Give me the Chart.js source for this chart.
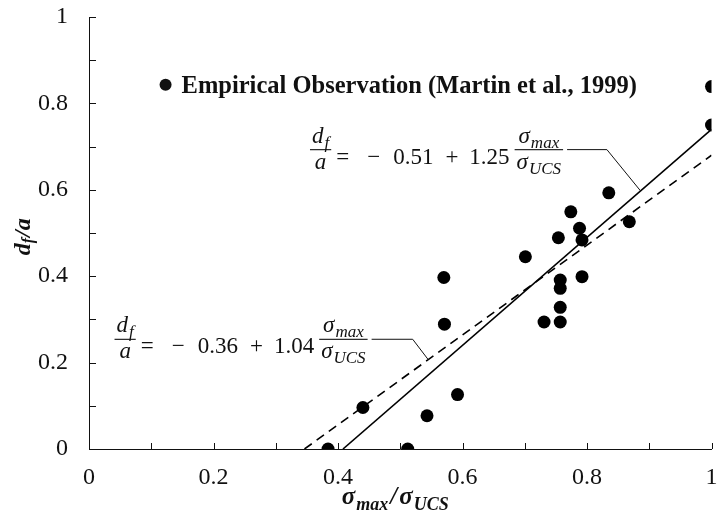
<!DOCTYPE html>
<html>
<head>
<meta charset="utf-8">
<script src="https://cdn.jsdelivr.net/npm/chart.js@4.4.0/dist/chart.umd.min.js"></script>
<style>
  html, body { margin: 0; padding: 0; background: #fff; }
  #chart { display: block; }
</style>
</head>
<body>
<canvas id="chart" width="718" height="515"></canvas>
<script>
// Observed fracture depth ratio d_f/a against sigma_max/sigma_UCS
const obsX = [0.384, 0.440, 0.512, 0.543, 0.592, 0.570, 0.571, 0.701, 0.731, 0.754, 0.757,
              0.757, 0.757, 0.757, 0.774, 0.788, 0.792, 0.792, 0.835, 0.868, 1.000, 1.000];
const obsY = [0.000, 0.096, 0.000, 0.077, 0.126, 0.397, 0.289, 0.445, 0.294, 0.489, 0.391,
              0.372, 0.328, 0.294, 0.549, 0.511, 0.484, 0.399, 0.593, 0.526, 0.839, 0.750];

// Linear fits: d_f/a = intercept + slope * sigma_max/sigma_UCS
const fitIntercept = [-0.51, -0.36];
const fitSlope = [1.25, 1.04];
const fitDash = [[], [9, 6]];

// Tick marks every 0.1 on both axes (labels every 0.2)
const tickMarks = [0, 0.1, 0.2, 0.3, 0.4, 0.5, 0.6, 0.7, 0.8, 0.9, 1];

const legendLabel = 'Empirical Observation (Martin et al., 1999)';

const ink = '#111';
const serif = '"Liberation Serif", "Times New Roman", serif';
const mathFamily = '"Liberation Serif", serif';

// Each fit line runs from where it crosses zero up to x = 1
function fitPoints(i) {
    const x0 = -fitIntercept[i] / fitSlope[i];
    return [
        { x: x0, y: 0 },
        { x: 1, y: fitIntercept[i] + fitSlope[i] }
    ];
}

function fitAt(i, x) {
    return fitIntercept[i] + fitSlope[i] * x;
}

// Equation labels: left edge / fraction bar height, leader elbow and where it meets the line
const eqAnchor = [{ x: 0.355, y: 0.693 }, { x: 0.041, y: 0.254 }];
const eqElbowX = [0.832, 0.520];
const eqTargetX = [0.886, 0.545];

// ---- small math text helpers ----
function symWidth(ctx, sym, size, weight) {
    ctx.font = `italic ${weight} ${size}px ${mathFamily}`;
    let w = ctx.measureText(sym.main).width;
    if (sym.sub) {
        ctx.font = `italic ${weight} ${Math.round(size * 0.72)}px ${mathFamily}`;
        w += 1 + ctx.measureText(sym.sub).width;
    }
    return w;
}

function drawSym(ctx, x, base, sym, size, weight) {
    ctx.font = `italic ${weight} ${size}px ${mathFamily}`;
    ctx.fillText(sym.main, x, base);
    const w = ctx.measureText(sym.main).width;
    if (sym.sub) {
        ctx.font = `italic ${weight} ${Math.round(size * 0.72)}px ${mathFamily}`;
        ctx.fillText(sym.sub, x + w + 1, base + size * 0.22);
    }
}

function drawFraction(ctx, x, barY, num, den, size) {
    const wn = symWidth(ctx, num, size, 'normal');
    const wd = symWidth(ctx, den, size, 'normal');
    const len = Math.max(wn, wd) + 4;
    drawSym(ctx, x + (len - wn) / 2, barY - 7, num, size, 'normal');
    drawSym(ctx, x + (len - wd) / 2, barY + 19, den, size, 'normal');
    ctx.fillRect(x, barY - 0.5, len, 1.1);
    return len;
}

function drawEquation(chart, i) {
    const { ctx, scales: { x, y } } = chart;
    const size = 23;
    const left = x.getPixelForValue(eqAnchor[i].x);
    const barY = y.getPixelForValue(eqAnchor[i].y);
    const base = barY + 14;
    let cx = left;

    cx += drawFraction(ctx, cx, barY, { main: 'd', sub: 'f' }, { main: 'a' }, size);

    ctx.font = `${size}px ${mathFamily}`;
    const parts = [
        ['=', 5, 18],
        ['\u2212', 0, 13],
        [Math.abs(fitIntercept[i]).toFixed(2), 0, 12],
        ['+', 0, 11],
        [fitSlope[i].toFixed(2), 0, 5]
    ];
    parts.forEach(([txt, before, after]) => {
        cx += before;
        ctx.fillText(txt, cx, base);
        cx += ctx.measureText(txt).width + after;
    });

    cx += drawFraction(ctx, cx, barY, { main: '\u03c3', sub: 'max' }, { main: '\u03c3', sub: 'UCS' }, size);

    // leader line to the fitted line
    const ex = x.getPixelForValue(eqElbowX[i]);
    const tx = x.getPixelForValue(eqTargetX[i]);
    const ty = y.getPixelForValue(fitAt(i, eqTargetX[i]));
    ctx.beginPath();
    ctx.moveTo(cx + 4, barY);
    ctx.lineTo(ex, barY);
    ctx.lineTo(tx, ty);
    ctx.lineWidth = 1;
    ctx.strokeStyle = ink;
    ctx.stroke();
}

const overlay = {
    id: 'overlay',
    afterDraw(chart) {
        const { ctx, chartArea, scales: { x, y } } = chart;
        ctx.save();
        ctx.fillStyle = ink;
        ctx.strokeStyle = ink;
        ctx.lineWidth = 1;
        ctx.textBaseline = 'alphabetic';
        ctx.textAlign = 'left';

        // inward tick marks
        ctx.beginPath();
        tickMarks.forEach(v => {
            const px = Math.round(x.getPixelForValue(v)) + 0.5;
            ctx.moveTo(px, chartArea.bottom);
            ctx.lineTo(px, chartArea.bottom - 6);
            const py = Math.round(y.getPixelForValue(v)) + 0.5;
            ctx.moveTo(chartArea.left, py);
            ctx.lineTo(chartArea.left + 7, py);
        });
        ctx.stroke();

        // legend
        const lx = x.getPixelForValue(0.123);
        const ly = y.getPixelForValue(0.843);
        ctx.beginPath();
        ctx.arc(lx, ly, 6, 0, Math.PI * 2);
        ctx.fill();
        ctx.font = `bold 24.5px ${serif}`;
        ctx.fillText(legendLabel, lx + 16, ly + 8);

        // equations
        drawEquation(chart, 0);
        drawEquation(chart, 1);

        // x axis title: sigma_max / sigma_UCS
        const xParts = [
            { main: '\u03c3', sub: 'max' },
            { main: '/' },
            { main: '\u03c3', sub: 'UCS' }
        ];
        const tSize = 25;
        const widths = xParts.map(p => symWidth(ctx, p, tSize, 'bold'));
        const total = widths.reduce((a, b) => a + b, 0) + 4;
        let tx = x.getPixelForValue(0.492) - total / 2;
        xParts.forEach((p, k) => {
            drawSym(ctx, tx, chartArea.bottom + 55, p, tSize, 'bold');
            tx += widths[k] + 2;
        });

        // y axis title: d_f/a, rotated
        ctx.save();
        ctx.translate(24, y.getPixelForValue(0.49));
        ctx.rotate(-Math.PI / 2);
        ctx.font = `italic bold 24px ${serif}`;
        const wd = ctx.measureText('d').width;
        ctx.font = `italic bold 16px ${serif}`;
        const wf = ctx.measureText('f').width;
        ctx.font = `italic bold 24px ${serif}`;
        const wa = ctx.measureText('/a').width;
        let ox = -(wd + wf + wa) / 2;
        ctx.textBaseline = 'middle';
        ctx.fillText('d', ox, 0);
        ctx.font = `italic bold 16px ${serif}`;
        ctx.fillText('f', ox + wd, 5);
        ctx.font = `italic bold 24px ${serif}`;
        ctx.fillText('/a', ox + wd + wf + 1, 0);
        ctx.restore();

        ctx.restore();
    }
};

const ctx = document.getElementById('chart').getContext('2d');

const datasets = [{
    label: legendLabel,
    data: obsX.map((v, i) => ({ x: v, y: obsY[i] })),
    backgroundColor: '#000',
    borderColor: '#000',
    pointRadius: 6.5,
    pointHoverRadius: 6.5,
    borderWidth: 0
}];
fitIntercept.forEach((b, i) => {
    datasets.push({
        type: 'line',
        label: 'fit ' + i,
        data: fitPoints(i),
        borderColor: '#000',
        borderWidth: 1.6,
        borderDash: fitDash[i],
        pointRadius: 0,
        fill: false,
        showLine: true
    });
});

const tickLabel = v => String(Math.round(v * 10) / 10);

new Chart(ctx, {
    type: 'scatter',
    data: { datasets: datasets },
    options: {
        responsive: false,
        animation: false,
        layout: { padding: { top: 17, right: 2, left: 0, bottom: 0 } },
        scales: {
            x: {
                type: 'linear',
                min: 0,
                max: 1,
                grid: { display: false, drawTicks: false },
                border: { display: true, color: ink, width: 1 },
                ticks: {
                    stepSize: 0.2,
                    color: ink,
                    padding: 14,
                    callback: tickLabel,
                    font: { family: serif, size: 24 }
                },
                afterFit(scale) {
                    scale.height = 66;
                    scale.paddingLeft = 0;
                    scale.paddingRight = 0;
                }
            },
            y: {
                type: 'linear',
                min: 0,
                max: 1,
                grid: { display: false, drawTicks: false },
                border: { display: true, color: ink, width: 1 },
                ticks: {
                    stepSize: 0.2,
                    color: ink,
                    padding: 21,
                    callback: tickLabel,
                    font: { family: serif, size: 24 }
                },
                afterFit(scale) {
                    scale.width = 89;
                    scale.paddingTop = 0;
                    scale.paddingBottom = 0;
                }
            }
        },
        plugins: {
            legend: { display: false },
            tooltip: { enabled: false }
        }
    },
    plugins: [overlay]
});
</script>
</body>
</html>
